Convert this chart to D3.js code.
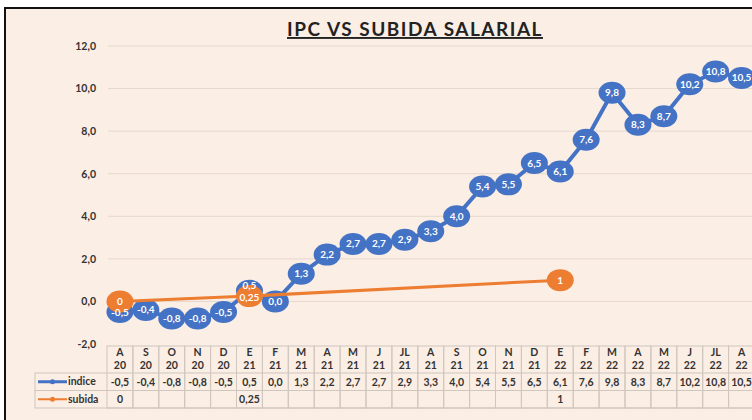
<!DOCTYPE html>
<html>
<head>
<meta charset="utf-8">
<script src="https://cdn.jsdelivr.net/npm/d3@7"></script>
<style>
  body { margin: 0; background: #fff; }
  text { font-family: Lato, "Open Sans", sans-serif; }
</style>
</head>
<body>
<div id="chart"></div>
<script>
// data
const months = ["A","S","O","N","D","E","F","M","A","M","J","JL","A","S","O","N","D","E","F","M","A","M","J","JL","A"];
const years  = ["20","20","20","20","20","21","21","21","21","21","21","21","21","21","21","21","21","22","22","22","22","22","22","22","22"];
const indice = [-0.5,-0.4,-0.8,-0.8,-0.5,0.5,0.0,1.3,2.2,2.7,2.7,2.9,3.3,4.0,5.4,5.5,6.5,6.1,7.6,9.8,8.3,8.7,10.2,10.8,10.5];
const subida = [0,null,null,null,null,0.25,null,null,null,null,null,null,null,null,null,null,null,1,null,null,null,null,null,null,null];
const yTicks = [-2,0,2,4,6,8,10,12];

const svgWidth = 752;
const svgHeight = 420;
const blue = "#4472c4";
const orange = "#ed7d31";
const fmt = v => v.toFixed(1).replace(".", ",");
const fmtSub = v => String(v).replace(".", ",");

const svg = d3.select("#chart").append("svg")
  .attr("width", svgWidth)
  .attr("height", svgHeight);

// chart area (runs off the right edge like the screenshot)
svg.append("rect")
  .attr("x", 5).attr("y", 8)
  .attr("width", 900).attr("height", 420)
  .attr("fill", "#fbeee5")
  .attr("stroke", "#111").attr("stroke-width", 2);

// bit of text cut off at the top
svg.append("text")
  .attr("x", 367).attr("y", -3)
  .attr("font-size", 16)
  .attr("fill", "#2f5597")
  .text("y");

const idx = d3.range(months.length);
const x = d3.scaleBand()
  .domain(idx)
  .range([107, 107 + 25 * 25.9]);

const y = d3.scaleLinear()
  .domain([-2, 12])
  .range([344, 46]);

const cx = i => x(i) + x.bandwidth() / 2;

// grid
svg.append("g").selectAll("line")
  .data(yTicks.filter(d => d > -2))
  .join("line")
  .attr("x1", 108).attr("x2", svgWidth)
  .attr("y1", d => y(d)).attr("y2", d => y(d))
  .attr("stroke", "#e5d8cd").attr("stroke-width", 1);

const yAxis = svg.append("g")
  .attr("transform", "translate(104,0)")
  .call(d3.axisLeft(y).tickValues(yTicks).tickSize(0).tickPadding(8).tickFormat(fmt));
yAxis.select(".domain").remove();
yAxis.selectAll("text")
  .attr("font-size", 10.5)
  .attr("font-weight", "bold")
  .attr("fill", "#333")
  .style("font-family", "Lato, sans-serif");

// title
svg.append("text")
  .attr("x", 415).attr("y", 36)
  .attr("text-anchor", "middle")
  .attr("font-size", 19)
  .attr("font-weight", "bold")
  .attr("letter-spacing", 1.5)
  .attr("fill", "#222")
  .attr("text-decoration", "underline")
  .text("IPC VS SUBIDA SALARIAL");

const line = d3.line()
  .x(d => cx(d.i))
  .y(d => y(d.v));

const indData = indice.map((v, i) => ({ i, v }));
const subData = subida.map((v, i) => ({ i, v })).filter(d => d.v !== null);

// series drawn one after the other: line then markers
function drawSeries(data, col, w) {
  svg.append("path")
    .datum(data)
    .attr("d", line)
    .attr("fill", "none")
    .attr("stroke", col)
    .attr("stroke-width", w);
  svg.append("g").selectAll("ellipse")
    .data(data)
    .join("ellipse")
    .attr("cx", d => cx(d.i)).attr("cy", d => y(d.v))
    .attr("rx", 13.5).attr("ry", 11)
    .attr("fill", col);
}
drawSeries(indData, blue, 4);
drawSeries(subData, orange, 3);

// data labels on top of everything
// E21 blue label sits a bit higher in the original, where it collides with 0,25
function drawLabels(data, f, shift) {
  svg.append("g").selectAll("text")
    .data(data)
    .join("text")
    .attr("x", d => cx(d.i)).attr("y", d => y(d.v) + shift(d))
    .attr("text-anchor", "middle")
    .attr("dy", "0.35em")
    .attr("font-size", 10)
    .attr("font-weight", "bold")
    .attr("fill", "#fff")
    .text(d => f(d.v));
}
drawLabels(indData, fmt, d => d.i === 5 ? -5 : 0);
drawLabels(subData, fmtSub, d => d.i === 5 ? 1 : 0);

// data table
const tTop = 346, hRow = 27, rRow = 17.5;
const tbl = svg.append("g");
const cellStroke = "#cfc6be";

tbl.selectAll("rect.hdr")
  .data(idx)
  .join("rect")
  .attr("x", i => x(i)).attr("y", tTop)
  .attr("width", x.bandwidth()).attr("height", hRow + 2 * rRow)
  .attr("fill", "none").attr("stroke", cellStroke);

[0, 1].forEach(r => {
  tbl.append("rect")
    .attr("x", 35).attr("y", tTop + hRow + r * rRow)
    .attr("width", x.range()[1] - 35).attr("height", rRow)
    .attr("fill", "none").attr("stroke", cellStroke);
});

const cellText = (sel) => sel
  .attr("text-anchor", "middle").attr("font-size", 10.5).attr("font-weight", "bold").attr("fill", "#333");

tbl.selectAll("text.m")
  .data(idx)
  .join("text")
  .attr("x", i => cx(i)).attr("y", tTop + 10)
  .call(cellText)
  .text(i => months[i]);
tbl.append("g").selectAll("text")
  .data(idx)
  .join("text")
  .attr("x", i => cx(i)).attr("y", tTop + 23)
  .call(cellText)
  .text(i => years[i]);

tbl.append("g").selectAll("text")
  .data(indData)
  .join("text")
  .attr("x", d => cx(d.i)).attr("y", tTop + hRow + 12.5)
  .call(cellText)
  .text(d => fmt(d.v));
tbl.append("g").selectAll("text")
  .data(subData)
  .join("text")
  .attr("x", d => cx(d.i)).attr("y", tTop + hRow + rRow + 12.5)
  .call(cellText)
  .text(d => fmtSub(d.v));

// legend keys in the table
[["indice", blue], ["subida", orange]].forEach(([name, col], r) => {
  const ly = tTop + hRow + r * rRow + rRow / 2;
  tbl.append("line")
    .attr("x1", 38).attr("x2", 67).attr("y1", ly).attr("y2", ly)
    .attr("stroke", col).attr("stroke-width", r === 0 ? 3 : 2);
  tbl.append("circle")
    .attr("cx", 52.5).attr("cy", ly).attr("r", 2.5)
    .attr("fill", col);
  tbl.append("text")
    .attr("x", 68).attr("y", ly + 3.5)
    .attr("font-size", 10.5).attr("font-weight", "bold").attr("fill", "#333")
    .text(name);
});
</script>
</body>
</html>
